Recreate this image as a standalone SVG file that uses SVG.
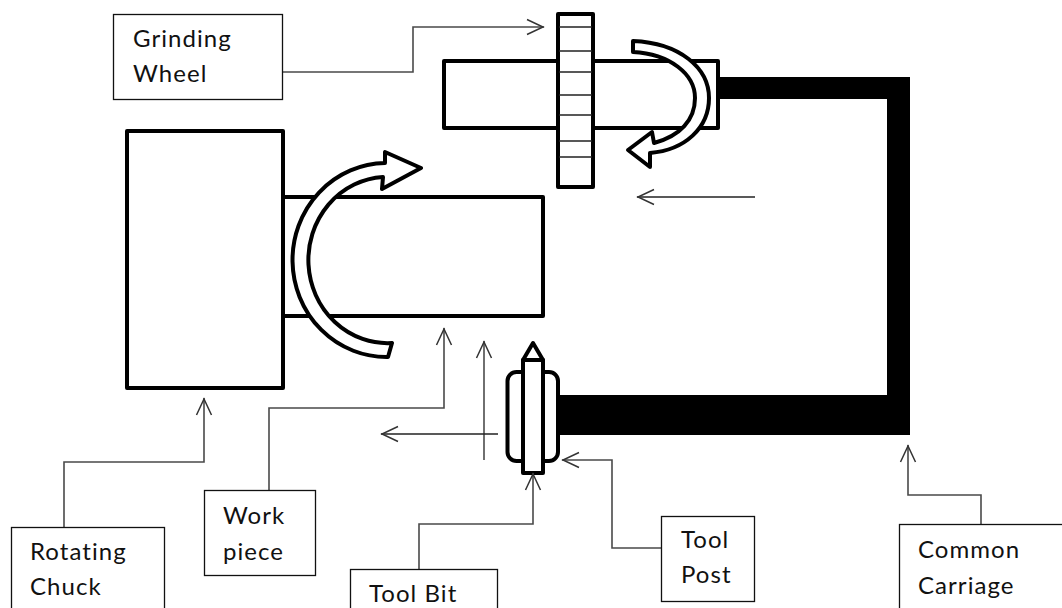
<svg xmlns="http://www.w3.org/2000/svg" width="1062" height="608" viewBox="0 0 1062 608">
<defs>
<marker id="a" markerUnits="userSpaceOnUse" markerWidth="22" markerHeight="20" refX="20" refY="10" orient="auto"><path d="M3 2.500 L19 10 L3 17.500" fill="none" stroke="#333" stroke-width="1.500"/></marker>
</defs>
<style>
text{font-family:Lato,"Liberation Sans",sans-serif;font-size:24px;fill:#111;letter-spacing:1.050px}
.box{fill:#fff;stroke:#111;stroke-width:1.300}
.part{fill:#fff;stroke:#000;stroke-width:4;stroke-linejoin:round}
.tick{stroke:#222;stroke-width:1.300;fill:none}
.leader{fill:none;stroke:#4a4a4a;stroke-width:1.600;marker-end:url(#a)}
.free{fill:none;stroke:#222;stroke-width:1.300;marker-end:url(#a)}
</style>
<g id="carriage"><path d="M718 77H910V435H558V395H887V99H718Z" fill="#000"/></g>
<g id="wheel-shaft"><rect class="part" x="444" y="61" width="274" height="67"/></g>
<g id="grinding-wheel-body"><rect class="part" x="558" y="14" width="35" height="173"/>
<path class="tick" d="M559 27H592M559 51H592M559 72H592M559 95H592M559 115H592M559 141H592M559 157H592"/></g>
<g id="wheel-rotation"><path class="part" d="M633 41C680 43 709 68 709 98C709 128 685 150 650 153L650 167L628 150L652 132L654 143C680 136 695 120 695 98C695 74 670 54 633 52Z"/></g>
<g id="chuck"><rect class="part" x="127" y="131" width="156" height="257"/></g>
<g id="workpiece"><rect class="part" x="283" y="197" width="260" height="119"/></g>
<g id="work-rotation"><path class="part" d="M392 343A79 83 0 0 1 383 177L382 189L421 168L385 152L385 163A94 97 0 0 0 388 357Z"/></g>
<g id="tool-post"><rect class="part" x="507.500" y="372" width="50.500" height="89" rx="9"/></g>
<g id="tool-bit"><rect class="part" x="523" y="360" width="20" height="113"/><path class="part" d="M523 360L533 343L543 360Z"/></g>
<g id="connectors">
<path class="leader" d="M283 72H413V27H544"/>
<path class="leader" d="M64 527V462H204V398"/>
<path class="leader" d="M269 490V408H444V328"/>
<path class="leader" d="M419 569V524H533V473"/>
<path class="leader" d="M661 548H612V460H562"/>
<path class="leader" d="M981 524V495H908V445"/>
<path class="free" d="M755 197H637"/>
<path class="free" d="M484 460V341"/>
<path class="free" d="M498 434H381"/>
</g>
<g id="label-grinding-wheel"><rect class="box" x="113.500" y="14.500" width="169" height="85"/><text x="133" y="47">Grinding</text><text x="133" y="82">Wheel</text></g>
<g id="label-rotating-chuck"><rect class="box" x="11.500" y="527.500" width="153" height="85"/><text x="30" y="560">Rotating</text><text x="30" y="595">Chuck</text></g>
<g id="label-work-piece"><rect class="box" x="204.500" y="490.500" width="111" height="85"/><text x="223" y="524">Work</text><text x="223" y="560">piece</text></g>
<g id="label-tool-bit"><rect class="box" x="350.500" y="569.500" width="147" height="60"/><text x="369" y="602">Tool Bit</text></g>
<g id="label-tool-post"><rect class="box" x="661.500" y="516.500" width="93" height="85"/><text x="681" y="548">Tool</text><text x="681" y="583">Post</text></g>
<g id="label-common-carriage"><rect class="box" x="899.500" y="524.500" width="180" height="100"/><text x="918" y="558">Common</text><text x="918" y="594">Carriage</text></g>
</svg>
